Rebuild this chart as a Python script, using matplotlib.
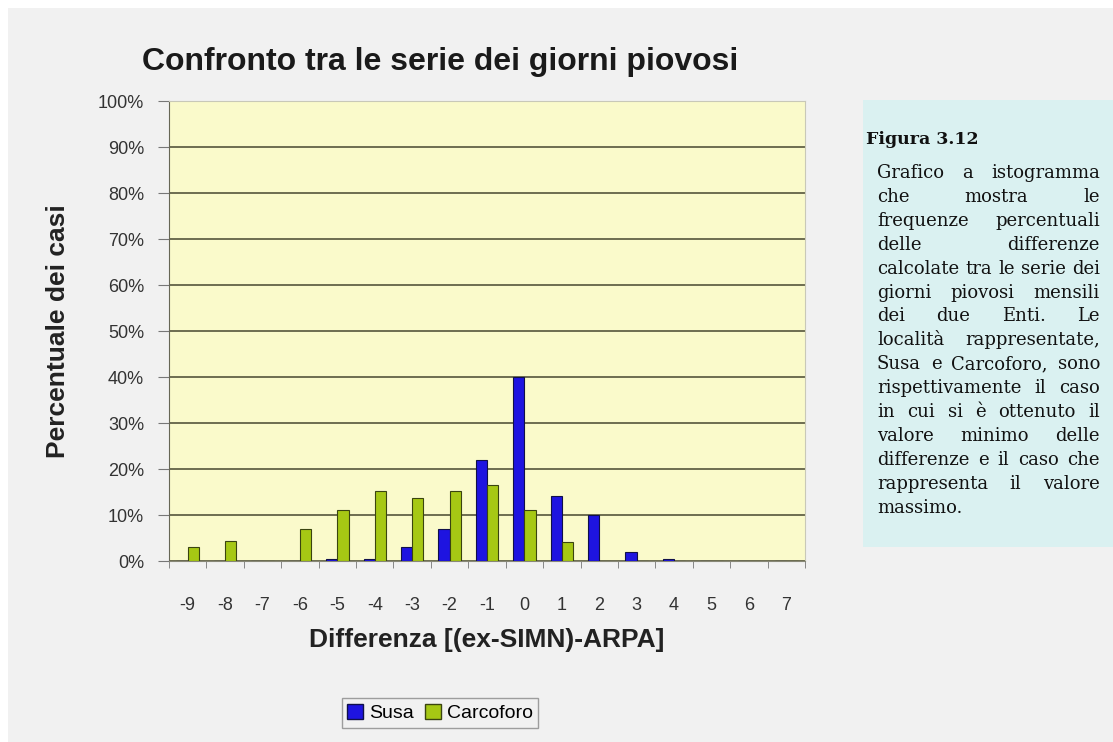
import numpy as np
import matplotlib.pyplot as plt
from matplotlib.patches import Rectangle, Patch

## The Data ..
differenze = [-9, -8, -7, -6, -5, -4, -3, -2, -1, 0, 1, 2, 3, 4, 5, 6, 7]
susa = [0, 0, 0, 0, 0.5, 0.5, 3, 7, 22, 40, 14.2, 10, 2, 0.5, 0, 0, 0]
carcoforo = [3, 4.3, 0, 7, 11, 15.3, 13.6, 15.3, 16.5, 11, 4.2, 0, 0, 0, 0, 0, 0]
y_ticks = [0, 10, 20, 30, 40, 50, 60, 70, 80, 90, 100]

caption_title = 'Figura 3.12'
caption_lines = ['Grafico a istogramma',
                 'che mostra le',
                 'frequenze percentuali',
                 'delle differenze',
                 'calcolate tra le serie dei',
                 'giorni piovosi mensili',
                 'dei due Enti. Le',
                 'località rappresentate,',
                 'Susa e Carcoforo, sono',
                 'rispettivamente il caso',
                 'in cui si è ottenuto il',
                 'valore minimo delle',
                 'differenze e il caso che',
                 'rappresenta il valore',
                 'massimo.']

W, H = 1113, 742
fig = plt.figure(figsize=(W / 100, H / 100), dpi=100, facecolor='white')

# grey panel behind everything
fig.patches.append(Rectangle((8 / W, 0), 1, 1 - 8 / H, transform=fig.transFigure,
                             facecolor='#f1f1f1', edgecolor='none', zorder=-10))
# caption box
fig.patches.append(Rectangle((863 / W, 1 - 547 / H), (W - 863) / W, 447 / H,
                             transform=fig.transFigure, facecolor='#daf1f1',
                             edgecolor='none', zorder=-5))

ax = fig.add_axes([169 / W, 1 - 561 / H, 636 / W, 460 / H])
ax.set_facecolor('#fafacb')

x = np.arange(len(differenze))
bw = 0.3
ax.bar(x - bw / 2, susa, bw, color='#1e14e0', edgecolor='#10104a', linewidth=0.8,
       label='Susa', zorder=3)
ax.bar(x + bw / 2, carcoforo, bw, color='#a6c814', edgecolor='#3a4410', linewidth=0.8,
       label='Carcoforo', zorder=3)

ax.set_xlim(-0.5, len(differenze) - 0.5)
ax.set_ylim(0, 100)
ax.set_yticks(y_ticks)
ax.set_yticklabels([str(v) + '%' for v in y_ticks], fontfamily='Liberation Sans',
                   fontsize=13, color='#333333')
ax.set_xticks(x)
ax.set_xticklabels([str(d) for d in differenze], fontfamily='Liberation Sans',
                   fontsize=13, color='#333333')
ax.tick_params(axis='x', which='major', length=0, pad=26)
ax.set_xticks(np.arange(-0.5, len(differenze), 1), minor=True)
ax.tick_params(axis='x', which='minor', length=5, color='#777777', direction='out')
ax.tick_params(axis='y', length=8, color='#777777', pad=10)

ax.grid(axis='y', color='#55553c', linewidth=1.2, zorder=1)
for s in ['top', 'right']:
    ax.spines[s].set_color('#c8c8b8')
ax.spines['left'].set_color('#666655')
ax.spines['bottom'].set_color('#888877')

ax.set_ylabel('Percentuale dei casi', fontfamily='Liberation Sans', fontsize=19,
              fontweight='bold', color='#222222', labelpad=20)
ax.set_xlabel('Differenza [(ex-SIMN)-ARPA]', fontfamily='Liberation Sans', fontsize=19,
              fontweight='bold', color='#222222', labelpad=10)

fig.text(440 / W, 1 - 62 / H, 'Confronto tra le serie dei giorni piovosi',
         fontfamily='Liberation Sans', fontsize=23, fontweight='bold', ha='center',
         va='center', color='#1a1a1a')

fig.legend(handles=[Patch(facecolor='#1e14e0', edgecolor='#10104a', label='Susa'),
                    Patch(facecolor='#a6c814', edgecolor='#3a4410', label='Carcoforo')],
           loc='center', bbox_to_anchor=(440 / W, 1 - 713 / H), ncol=2,
           prop={'family': 'Liberation Sans', 'size': 14}, frameon=True, fancybox=False,
           edgecolor='#888888', facecolor='#f1f1f1', handlelength=0.8, handleheight=0.8,
           handletextpad=0.3, columnspacing=0.6, borderpad=0.3)

## Caption, justified text
serif = 'DejaVu Serif'
fig.text(866 / W, 1 - 140 / H, caption_title, fontfamily=serif, fontsize=12.5,
         fontweight='bold', ha='left', va='center', color='#111111')

fs = 13.0
left, right = 877, 1100
renderer = fig.canvas.get_renderer()
for i, line in enumerate(caption_lines):
    yy = 1 - (173 + i * 23.9) / H
    words = line.split()
    txts = [fig.text(0, yy, w, fontfamily=serif, fontsize=fs, ha='left', va='center',
                     color='#111111') for w in words]
    widths = [t.get_window_extent(renderer).width for t in txts]
    if i == len(caption_lines) - 1 or len(words) == 1:
        gap = renderer.points_to_pixels(fs) * 0.3
    else:
        gap = (right - left - sum(widths)) / (len(words) - 1)
    pos = left
    for t, w in zip(txts, widths):
        t.set_x(pos / W)
        pos += w + gap

fig.savefig('out.png', dpi=100, facecolor=fig.get_facecolor())
